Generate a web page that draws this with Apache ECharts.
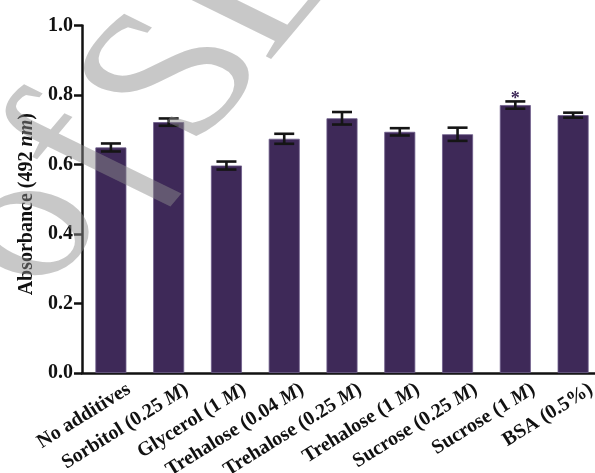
<!DOCTYPE html>
<html>
<head>
<meta charset="utf-8">
<script src="https://cdn.jsdelivr.net/npm/echarts@6/dist/echarts.min.js"></script>
<style>
html,body{margin:0;padding:0;background:#fff;}
#c{width:595px;height:473px;}
</style>
</head>
<body>
<div id="c"></div>
<script>
const categories = ['No additives', 'Sorbitol (0.25 M)', 'Glycerol (1 M)', 'Trehalose (0.04 M)',
  'Trehalose (0.25 M)', 'Trehalose (1 M)', 'Sucrose (0.25 M)', 'Sucrose (1 M)', 'BSA (0.5%)'];
const means = [0.649, 0.722, 0.597, 0.674, 0.733, 0.694, 0.687, 0.771, 0.742];
const errors = [0.0115, 0.0105, 0.0115, 0.0144, 0.018, 0.0105, 0.019, 0.0105, 0.0072];
const significance = ['', '', '', '', '', '', '', '*', ''];
const yTicks = [0.0, 0.2, 0.4, 0.6, 0.8, 1.0];
const yAxisTitle = 'Absorbance (492 {i|nm})';
const watermarkLetters = ['o', 'f', 'S', 'E'];

const FONT = '"Liberation Serif", "Times New Roman", serif';
const BAR = '#3e2958';

const chart = echarts.init(document.getElementById('c'), null, {renderer: 'canvas'});

const errData = categories.map((c, i) => [i, means[i], errors[i], significance[i]]);

// watermark letter placement (decoration only)
const wmPos = [[25, 231], [84, 154], [178, 80], [256, -13]];
const wmSize = [210, 210, 220, 220];
const wmRot = 50 * Math.PI / 180;
const watermark = watermarkLetters.map((ch, i) => ({
  type: 'text',
  x: wmPos[i][0], y: wmPos[i][1],
  rotation: wmRot,
  skewX: 0.4,
  z: 100,
  silent: true,
  style: {
    text: ch,
    font: 'italic ' + wmSize[i] + 'px ' + FONT,
    fill: 'rgba(139,139,139,0.48)',
    align: 'center',
    verticalAlign: 'middle'
  }
}));

chart.setOption({
  animation: false,
  backgroundColor: '#ffffff',
  grid: {left: 82, right: -7, top: 25.5, bottom: 100, containLabel: false, outerBoundsMode: 'none'},
  xAxis: {
    type: 'category',
    data: categories,
    boundaryGap: true,
    axisLine: {lineStyle: {color: '#111', width: 2.5}},
    axisTick: {alignWithLabel: true, length: 8, lineStyle: {color: '#111', width: 2.5}},
    axisLabel: {
      interval: 0,
      rotate: 32,
      margin: -14,
      align: 'right',
      verticalAlign: 'top',
      padding: [24, 0, 0, 0],
      color: '#111',
      fontFamily: FONT,
      fontWeight: 'bold',
      fontSize: 20,
      hideOverlap: false,
      formatter: v => v.replace(/ M\)/, ' {i|M})'),
      rich: {i: {fontFamily: FONT, fontWeight: 'bold', fontStyle: 'italic', fontSize: 20, color: '#111'}}
    },
    splitLine: {show: false}
  },
  yAxis: {
    type: 'value',
    min: yTicks[0],
    max: yTicks[yTicks.length - 1],
    interval: 0.2,
    name: yAxisTitle,
    nameLocation: 'middle',
    nameGap: 45,
    nameRotate: 90,
    nameTextStyle: {
      color: '#111', fontFamily: FONT, fontWeight: 'bold', fontSize: 20,
      padding: [0, 10, 0, 0],
      rich: {i: {fontFamily: FONT, fontWeight: 'bold', fontStyle: 'italic', fontSize: 20, color: '#111'}}
    },
    axisLine: {show: true, lineStyle: {color: '#111', width: 2.5}},
    axisTick: {show: true, length: 8, lineStyle: {color: '#111', width: 2.5}},
    axisLabel: {
      margin: 9,
      color: '#111', fontFamily: FONT, fontWeight: 'bold', fontSize: 20,
      formatter: v => v.toFixed(1)
    },
    splitLine: {show: false}
  },
  series: [
    {
      type: 'bar',
      data: means,
      barWidth: 31,
      itemStyle: {color: BAR, borderColor: '#6d5d8a', borderWidth: 0.8},
      z: 2
    },
    {
      type: 'custom',
      data: errData,
      z: 5,
      renderItem: function (params, api) {
        const x = api.value(0), m = api.value(1), e = api.value(2);
        const sig = significance[params.dataIndex];
        const hi = api.coord([x, m + e]);
        const lo = api.coord([x, m - e]);
        const half = 10;
        const ls = {stroke: '#151515', lineWidth: 2.6};
        const children = [
          {type: 'line', shape: {x1: hi[0], y1: hi[1], x2: lo[0], y2: lo[1]}, style: ls},
          {type: 'line', shape: {x1: hi[0] - half, y1: hi[1], x2: hi[0] + half, y2: hi[1]}, style: ls},
          {type: 'line', shape: {x1: lo[0] - half, y1: lo[1], x2: lo[0] + half, y2: lo[1]}, style: ls}
        ];
        if (sig) {
          children.push({
            type: 'text',
            style: {
              text: sig, x: hi[0], y: hi[1] - 2,
              align: 'center', verticalAlign: 'middle',
              font: 'bold 18px ' + FONT, fill: BAR
            }
          });
        }
        return {type: 'group', children: children};
      }
    }
  ],
  graphic: watermark
});
</script>
</body>
</html>
